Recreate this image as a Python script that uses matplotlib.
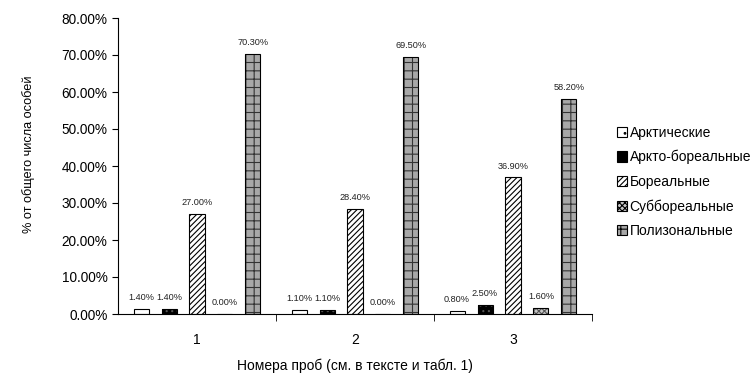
import matplotlib
matplotlib.use("Agg")
import matplotlib.pyplot as plt
import numpy as np

plt.rcParams['font.family'] = ['Liberation Sans', 'DejaVu Sans']
plt.rcParams['hatch.linewidth'] = 0.8

samples = ['1', '2', '3']
groups = ['Арктические', 'Аркто-бореальные', 'Бореальные', 'Суббореальные', 'Полизональные']
values = {
    'Арктические':      [1.4, 1.1, 0.8],
    'Аркто-бореальные': [1.4, 1.1, 2.5],
    'Бореальные':       [27.0, 28.4, 36.9],
    'Суббореальные':    [0.0, 0.0, 1.6],
    'Полизональные':    [70.3, 69.5, 58.2],
}
yticks = [0, 10, 20, 30, 40, 50, 60, 70, 80]

styles = {
    'Арктические':      dict(facecolor='white', hatch='..', edgecolor='black'),
    'Аркто-бореальные': dict(facecolor='black', hatch='...', edgecolor='#555555'),
    'Бореальные':       dict(facecolor='white', hatch='//////', edgecolor='black'),
    'Суббореальные':    dict(facecolor='#c8c8c8', hatch='xxxxxx', edgecolor='#555555'),
    'Полизональные':    dict(facecolor='#a8a8a8', hatch='++', edgecolor='#333333'),
}

fig = plt.figure(figsize=(7.55, 3.76), dpi=100)
ax = fig.add_axes([118 / 755, 1 - 314 / 376, (592 - 118) / 755, (314 - 18) / 376])

x = np.arange(len(samples))
step = 0.177
width = 0.095
for i, g in enumerate(groups):
    off = (i - 2) * step
    st = styles[g]
    ax.bar(x + off, values[g], width, facecolor=st['facecolor'],
           hatch=st['hatch'], edgecolor=st['edgecolor'], linewidth=0, label=g)
    # black outline drawn separately so hatch colour can differ
    ax.bar(x + off, values[g], width, facecolor='none', edgecolor='black', linewidth=0.8)
    for xi, v in zip(x + off, values[g]):
        ax.annotate(f'{v:.2f}%', (xi, v), xytext=(0, 5), textcoords='offset points',
                    ha='center', va='bottom', fontsize=6.6, color='#222222')

ax.set_xlim(-0.5, 2.5)
ax.set_ylim(0, 80)
ax.set_yticks(yticks)
ax.set_yticklabels([f'{t:.2f}%' for t in yticks], fontsize=9.8)
ax.set_xticks(x)
ax.set_xticklabels(samples, fontsize=10)
ax.tick_params(axis='x', length=0, pad=14)
ax.set_xticks([0.5, 1.5, 2.5], minor=True)
ax.tick_params(axis='x', which='minor', length=5, direction='out')
ax.tick_params(axis='y', length=4, direction='out', width=0.8)
for s in ['top', 'right']:
    ax.spines[s].set_visible(False)
for s in ['left', 'bottom']:
    ax.spines[s].set_linewidth(0.8)

ax.set_xlabel('Номера проб (см. в тексте и табл. 1)', fontsize=10, labelpad=8)
ax.set_ylabel('% от общего числа особей', fontsize=9.2)
ax.yaxis.set_label_coords(-0.175, 0.54)

handles, labels = ax.get_legend_handles_labels()
leg = fig.legend(handles, labels, loc='upper left', bbox_to_anchor=(604 / 755, 1 - 113 / 376),
                 frameon=False, fontsize=10, handlelength=0.75, handleheight=0.75,
                 handletextpad=0.2, labelspacing=0.75)
for h in leg.legend_handles:
    h.set_linewidth(0.8)
    h.set_edgecolor('black')

fig.savefig('out.png', dpi=100)
